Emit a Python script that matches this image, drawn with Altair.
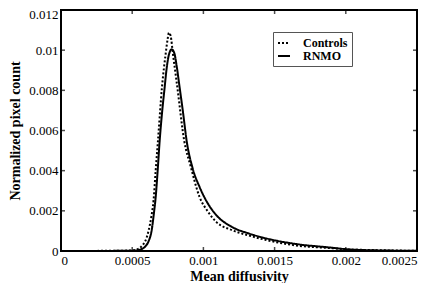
import altair as alt
import pandas as pd

# Controls (dotted)
ctrl_x = [0.0, 0.000343, 0.000497, 0.000553, 0.000574, 0.0006, 0.000616, 0.000634,
          0.00065, 0.000665, 0.000681, 0.000709, 0.000735, 0.000749, 0.000758,
          0.00077, 0.000786, 0.000817, 0.000865, 0.00091, 0.000973, 0.00103,
          0.00109, 0.0012, 0.00132, 0.00144, 0.00167, 0.00188, 0.00202, 0.00223, 0.0025]
ctrl_y = [0.0, 0.00001, 0.000025, 0.00015, 0.0003, 0.00064, 0.00104, 0.00169,
          0.00253, 0.00402, 0.0055, 0.00815, 0.00982, 0.01056, 0.01087,
          0.01071, 0.00982, 0.00815, 0.0055, 0.00423, 0.00269, 0.00198,
          0.00145, 0.00104, 0.00077, 0.00055, 0.00026, 0.00015, 0.00008, 0.00004, 0.00001]

# RNMO (solid)
rnmo_x = [0.0, 0.000343, 0.000518, 0.000567, 0.000595, 0.000616, 0.000637, 0.000651,
          0.000665, 0.000679, 0.000693, 0.000711, 0.000728, 0.00074, 0.000756,
          0.000777, 0.000795, 0.000812, 0.000833, 0.000858, 0.000882, 0.000924,
          0.000973, 0.00103, 0.00109, 0.0012, 0.00132, 0.00144, 0.00167, 0.00188,
          0.00202, 0.00223, 0.0025]
rnmo_y = [0.0, 0.000005, 0.00002, 0.0001, 0.00025, 0.0005, 0.00104, 0.00179,
          0.00269, 0.00402, 0.0055, 0.00699, 0.00815, 0.00898, 0.00972,
          0.01004, 0.00987, 0.00922, 0.00815, 0.00684, 0.0055, 0.00413,
          0.00319, 0.00238, 0.00179, 0.0012, 0.00087, 0.00063, 0.00033, 0.00018,
          0.00008, 0.00003, 0.00001]

x_ticks = [0, 0.0005, 0.001, 0.0015, 0.002, 0.0025]
y_ticks = [0, 0.002, 0.004, 0.006, 0.008, 0.01, 0.012]
series_names = ["Controls", "RNMO"]

FONT = "Liberation Serif"

df = pd.concat([
    pd.DataFrame({"x": ctrl_x, "y": ctrl_y, "s": series_names[0]}),
    pd.DataFrame({"x": rnmo_x, "y": rnmo_y, "s": series_names[1]}),
])

xs = alt.Scale(domain=[0, 0.0025], nice=False, zero=False)
ys = alt.Scale(domain=[0, 0.012], nice=False, zero=False)

lines = alt.Chart(df).mark_line(color="black", strokeWidth=2, interpolate="monotone").encode(
    x=alt.X("x:Q", scale=xs, title="Mean diffusivity",
            axis=alt.Axis(values=x_ticks, format="~g", labelPadding=3, titlePadding=2,
                          labelOverlap=False)),
    y=alt.Y("y:Q", scale=ys, title="Normalized pixel count",
            axis=alt.Axis(values=y_ticks, format="~g", labelPadding=3, titlePadding=6,
                          labelOverlap=False,
                          labelOffset={"condition": {"test": "datum.value >= 0.012", "value": 4},
                                       "value": 0})),
    strokeDash=alt.StrokeDash("s:N", scale=alt.Scale(domain=series_names, range=[[2, 2], [1, 0]]),
                              legend=alt.Legend(title=None, orient="none", legendX=212, legendY=22,
                                                strokeColor="#555", padding=4, fillColor="white",
                                                symbolType="stroke", symbolSize=144,
                                                symbolStrokeWidth=2, symbolStrokeColor="black",
                                                labelFont=FONT, labelFontSize=12,
                                                labelFontWeight="bold", labelColor="black",
                                                labelOffset=12, rowPadding=-5)),
    detail="s:N",
)

tx = pd.DataFrame({"t": x_ticks[1:-1]})
ty = pd.DataFrame({"t": y_ticks[1:-1]})

bottom = alt.Chart(tx).mark_tick(color="black", thickness=1.5, size=4, yOffset=-2, orient="vertical").encode(
    x=alt.X("t:Q", scale=xs), y=alt.YDatum(0))
top = alt.Chart(tx).mark_tick(color="black", thickness=1.5, size=4, yOffset=2, orient="vertical").encode(
    x=alt.X("t:Q", scale=xs), y=alt.YDatum(0.012))
left = alt.Chart(ty).mark_tick(color="black", thickness=1.5, size=4, xOffset=2, orient="horizontal").encode(
    y=alt.Y("t:Q", scale=ys), x=alt.XDatum(0))
right = alt.Chart(ty).mark_tick(color="black", thickness=1.5, size=4, xOffset=-2, orient="horizontal").encode(
    y=alt.Y("t:Q", scale=ys), x=alt.XDatum(0.0025))

chart = alt.layer(lines, bottom, top, left, right).properties(
    width=356, height=241,
    autosize=alt.AutoSizeParams(type="none"),
    padding={"left": 53, "top": 2, "right": 15, "bottom": 32},
).configure(
    background="white", font=FONT,
).configure_view(
    stroke="black", strokeWidth=2,
).configure_axis(
    domain=False, grid=False, ticks=False,
    labelFont=FONT, labelFontSize=13, labelColor="black",
    titleFont=FONT, titleFontSize=14, titleFontWeight="bold", titleColor="black",
)

chart.save("out.html", embed_options={"renderer": "svg", "actions": False})
